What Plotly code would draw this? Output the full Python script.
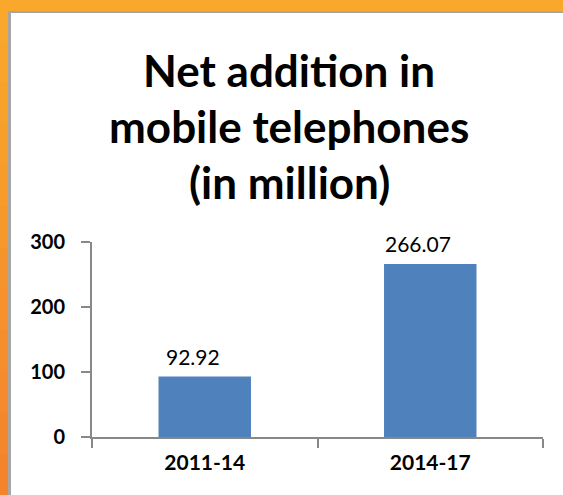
import plotly.graph_objects as go

# Data
periods = ["2011-14", "2014-17"]
net_additions = [92.92, 266.07]
y_ticks = [0, 100, 200, 300]

W, H = 563, 495
ML, MR, MT, MB = 92, 20, 242, 58
plot_w = W - ML - MR
plot_h = H - MT - MB
FONT = "Lato, Open Sans, sans-serif"
TOP = 11   # height of the orange band along the top edge
LEFT = 8   # width of the orange band along the left edge


def px_x(x):
    return (x - ML) / plot_w


def px_y(y):
    return (H - MB - y) / plot_h


fig = go.Figure()
fig.add_trace(go.Bar(
    x=periods,
    y=net_additions,
    marker=dict(color="#4F81BD", line=dict(width=0)),
    hoverinfo="skip",
))

# Frame: orange page with a white panel that has a grey top/left edge
shapes = []
# left strip, shading from yellow-orange at the top to deeper orange at the bottom
n = 12
c0 = (249, 168, 43)
c1 = (244, 132, 44)
for i in range(n):
    t = i / (n - 1)
    col = "rgb({},{},{})".format(*[int(round(a + (b - a) * t)) for a, b in zip(c0, c1)])
    y0 = H * i / n
    y1 = H * (i + 1) / n + 1
    shapes.append(dict(type="rect", xref="paper", yref="paper", layer="below",
                       x0=px_x(-2), x1=px_x(LEFT + 1), y0=px_y(y0), y1=px_y(y1),
                       fillcolor=col, line=dict(width=0)))
shapes.append(dict(type="rect", xref="paper", yref="paper", layer="below",
                   x0=px_x(LEFT), x1=px_x(W + 2), y0=px_y(TOP), y1=px_y(H + 2),
                   fillcolor="#A6A6A6", line=dict(width=0)))
shapes.append(dict(type="rect", xref="paper", yref="paper", layer="below",
                   x0=px_x(LEFT + 3), x1=px_x(W + 2), y0=px_y(TOP + 2), y1=px_y(H + 2),
                   fillcolor="#FFFFFF", line=dict(width=0)))

title_lines = ["Net addition in", "mobile telephones", "(in million)"]
annotations = []
for i, line in enumerate(title_lines):
    annotations.append(dict(
        text=f"<b>{line}</b>", xref="paper", yref="paper",
        x=px_x(289), y=px_y(70 + i * 56), xanchor="center", yanchor="middle",
        showarrow=False,
        font=dict(family=FONT, size=44, color="#000000"),
    ))

# value labels above the bars
for p, v in zip(periods, net_additions):
    annotations.append(dict(
        text=f"{v:.2f}", x=p, y=v, xref="x", yref="y",
        xanchor="center", yanchor="bottom", yshift=6, xshift=-12, showarrow=False,
        font=dict(family=FONT, size=21, color="#000000"),
    ))

fig.update_layout(
    width=W, height=H,
    margin=dict(l=ML, r=MR, t=MT, b=MB),
    paper_bgcolor="#F9A82B",
    plot_bgcolor="#FFFFFF",
    showlegend=False,
    bargap=0.59,
    shapes=shapes,
    annotations=annotations,
    xaxis=dict(
        type="category", range=[-0.5, 1.5],
        showline=True, linecolor="#888888", linewidth=2,
        ticks="outside", tickson="boundaries", ticklen=9, tickwidth=2, tickcolor="#888888",
        showgrid=False, zeroline=False, ticklabelstandoff=6,
        tickfont=dict(family=FONT, size=21, color="#000000", weight="bold"),
    ),
    yaxis=dict(
        range=[0, 300], tickvals=y_ticks,
        showline=True, linecolor="#888888", linewidth=2,
        ticks="outside", ticklen=9, tickwidth=2, tickcolor="#888888",
        showgrid=False, zeroline=False, ticklabelstandoff=12,
        tickfont=dict(family=FONT, size=20, color="#000000", weight="bold"),
    ),
)

fig.write_html("out.html", config={"displayModeBar": False})
